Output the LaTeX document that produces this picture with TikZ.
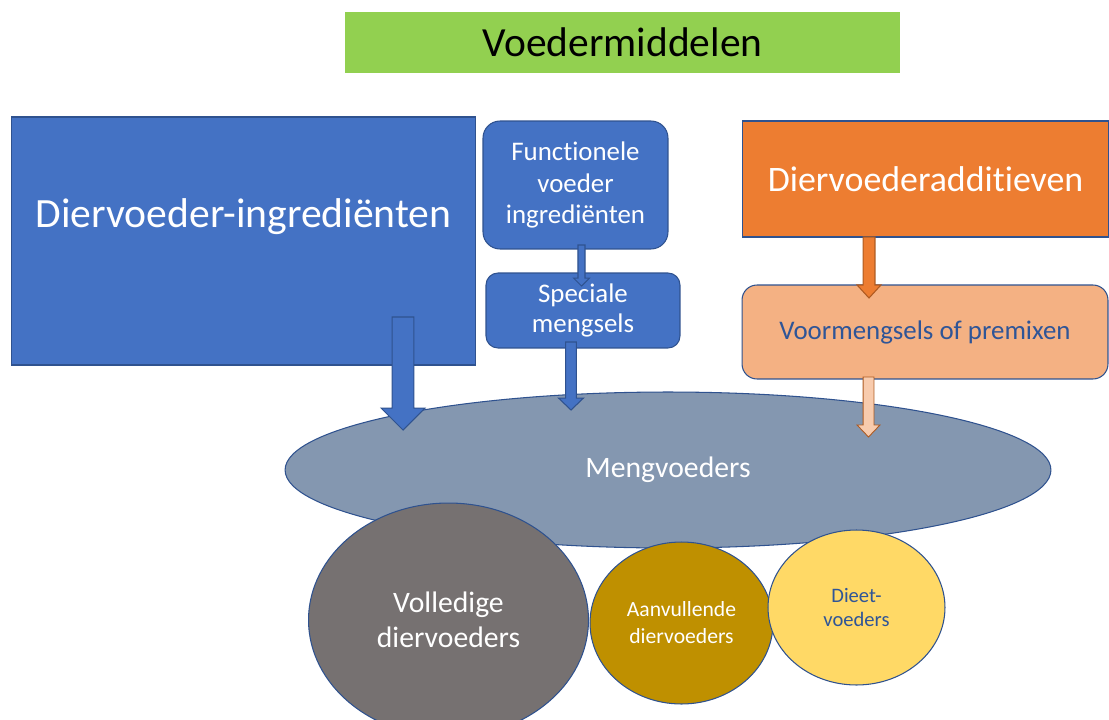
\documentclass[tikz,border=0pt]{standalone}
\usepackage{fontspec}
\setmainfont{Carlito}[Ligatures=NoCommon]
\usetikzlibrary{shapes.geometric,calc}

\definecolor{ppblue}{HTML}{4472C4}
\definecolor{ppedge}{HTML}{2F528F}
\definecolor{ppgreen}{HTML}{92D050}
\definecolor{pporange}{HTML}{ED7D31}
\definecolor{ppoedge}{HTML}{AE5A21}
\definecolor{ppsalmon}{HTML}{F4B183}
\definecolor{pppeach}{HTML}{F8CBAD}
\definecolor{ppslate}{HTML}{8497B0}
\definecolor{ppgray}{HTML}{767171}
\definecolor{ppgold}{HTML}{BF9000}
\definecolor{ppyellow}{HTML}{FFD966}
\definecolor{ppnavy}{HTML}{2F5597}

% block arrow pointing down: style, from, to, half shaft, half head, head length
\newcommand{\blockarrow}[6]{%
	\draw[#1] let \p1=(#2), \p2=(#3) in
		(\x1-#4,\y1) -- (\x1-#4,\y2+#6) -- (\x1-#5,\y2+#6) -- (\x1,\y2)
		-- (\x1+#5,\y2+#6) -- (\x1+#4,\y2+#6) -- (\x1+#4,\y1) -- cycle;}

\begin{document}
\begin{tikzpicture}[x=0.02cm, y=-0.02cm,
	box/.style={draw=ppedge, line width=0.6pt, inner sep=0pt, align=center},
	oval/.style={box, ellipse},
	bluearrow/.style={fill=ppblue, draw=ppedge, line width=0.6pt},
	fs/.style 2 args={font=\fontsize{#1}{#2}\selectfont}]
	\useasboundingbox (0,0) rectangle (1109,720);

	\node[fill=ppgreen, inner sep=0pt, minimum width=11.1cm, minimum height=1.22cm, fs={23.6}{28}] (title) at (622.5,42.5) {Voedermiddelen};

	\node[box, fill=ppblue, minimum width=9.3cm, minimum height=4.96cm] (ingr) at (243.5,241) {};
	\node[text=white, fs={23.7}{28}] (ingrlabel) at ($(ingr.center)+(0,-24)$) {Diervoeder-ingrediënten};

	\node[box, fill=ppblue, rounded corners=0.34cm, minimum width=3.7cm, minimum height=2.56cm, text=white, fs={15.3}{17.9}] (func) at (575.5,185) {Functionele\\voeder\\ingrediënten};
	\node[box, fill=ppblue, rounded corners=0.24cm, minimum width=3.88cm, minimum height=1.5cm, text=white, fs={15.3}{17.6}] (spec) at (583,310.5) {Speciale\\mengsels};

	\node[box, fill=pporange, minimum width=7.34cm, minimum height=2.32cm, text=white, fs={20.4}{24}] (add) at (925.5,179) {Diervoederadditieven};
	\node[box, fill=ppsalmon, rounded corners=0.3cm, minimum width=7.32cm, minimum height=1.88cm, text=ppnavy, fs={15.3}{18}] (premix) at (925,332) {Voormengsels of premixen};

	\node[oval, fill=ppslate, minimum width=15.32cm, minimum height=3.12cm, text=white, fs={16.9}{20}] (meng) at (668,470) {Mengvoeders};

	\node[oval, fill=ppgray, minimum width=5.6cm, minimum height=4.68cm, text=white, fs={16.9}{19.8}] (vol) at (448.5,620) {Volledige\\diervoeders};
	\node[oval, fill=ppgold, minimum width=3.66cm, minimum height=3.24cm, text=white, fs={12.3}{15.3}] (aanv) at (681.5,623) {Aanvullende\\diervoeders};
	\node[oval, fill=ppyellow, minimum width=3.54cm, minimum height=3.1cm, text=ppnavy, fs={11.7}{13.6}] (dieet) at (856.5,607.5) {Dieet-\\voeders};

	% arrows
	\coordinate (ingrout) at (403,317);
	\coordinate (mengin1) at (403,430);
	\coordinate (funcout) at (581.5,245);
	\coordinate (specin) at (581.5,286);
	\coordinate (specout) at (571,342);
	\coordinate (mengin2) at (571,410);
	\coordinate (addout) at (869,237);
	\coordinate (premixin) at (869,298);
	\coordinate (premixout) at (868.5,377);
	\coordinate (mengin3) at (868.5,437);

	\blockarrow{bluearrow}{ingrout}{mengin1}{6.2pt}{12.5pt}{12.5pt}
	\blockarrow{bluearrow}{funcout}{specin}{2pt}{4.5pt}{4.5pt}
	\blockarrow{bluearrow}{specout}{mengin2}{3.1pt}{7.1pt}{6.8pt}
	\blockarrow{fill=pporange, draw=ppoedge, line width=0.6pt}{addout}{premixin}{3.4pt}{6.8pt}{7.4pt}
	\blockarrow{fill=pppeach, draw=ppoedge, line width=0.5pt}{premixout}{mengin3}{3.1pt}{6.5pt}{6.8pt}
\end{tikzpicture}
\end{document}
